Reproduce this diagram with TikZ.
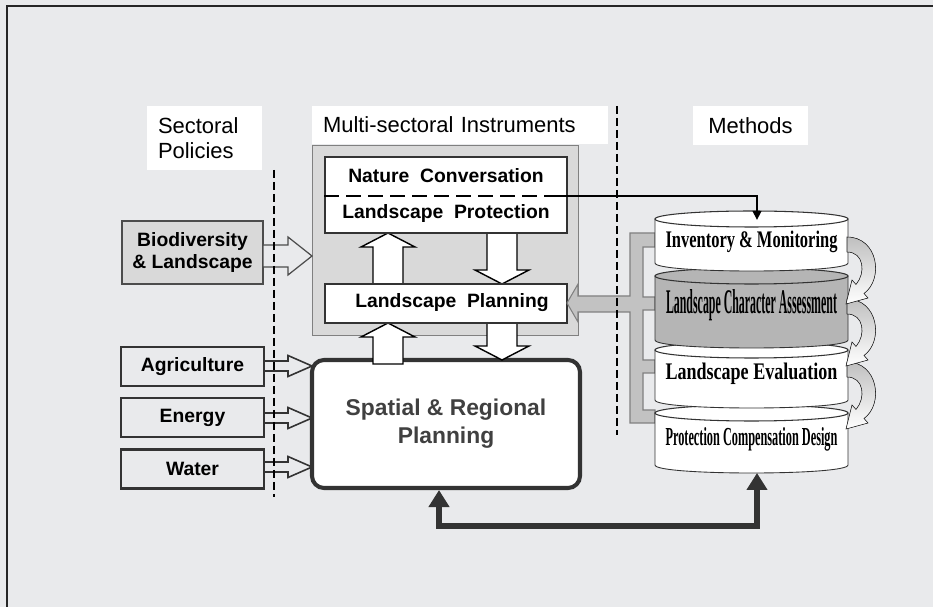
\documentclass[tikz,border=0pt]{standalone}
\usepackage{fontspec}
\setmainfont{Liberation Sans}
\newfontfamily\wordart{Liberation Serif}
\usetikzlibrary{arrows.meta,calc}

\definecolor{bg}{HTML}{E9EAEC}
\definecolor{panel}{HTML}{D9D9D9}
\definecolor{combgray}{HTML}{C2C2C2}
\definecolor{cylgray}{HTML}{B5B5B5}
\definecolor{dark}{HTML}{333333}

\newcommand{\pxu}{0.02cm}

% block arrow: style, x, y, angle, length, shaft half width, head half width, head length
\newcommand{\blockarr}[8]{%
  \draw[#1, shift={(#2,#3)}, rotate=#4] (0,-#6) -- ({#5-#8},-#6) -- ({#5-#8},-#7) -- (#5,0)
    -- ({#5-#8},#7) -- ({#5-#8},#6) -- (0,#6) -- cycle;}

% cylinder: top, bottom, fill
\newcommand{\cyl}[3]{%
  \filldraw[fill=#3, draw=black!80, line width=0.5pt] (655,#1) -- (655,#2)
    .. controls (655,#2+10.67) and (848,#2+10.67) .. (848,#2) -- (848,#1) -- cycle;
  \filldraw[fill=#3, draw=black!80, line width=0.6pt] (751.5,#1) ellipse [x radius=96.5, y radius=8];}

% curved block arrow on the right of the stack
\newcommand{\curvarr}[1]{%
  \filldraw[top color=black!25, bottom color=white, draw=black!90, line width=0.3pt]
    (847,#1) .. controls (878,#1) and (884,#1+42) .. (864,#1+56.5) -- (868,#1+61) -- (846,#1+67)
    -- (852,#1+43) -- (856,#1+47.5) .. controls (866,#1+36) and (864,#1+15) .. (847,#1+15) -- cycle;}

\tikzset{
  lbl/.style={fill=white, inner sep=0pt, font=\fontsize{12.5}{14.2}\selectfont},
  btxt/.style={font=\bfseries\fontsize{11}{13}\selectfont, inner sep=0pt},
  wbox/.style={draw=black!80, fill=white, line width=0.6pt, inner sep=0pt},
  secbox/.style={draw=dark, fill=bg, line width=1.2pt, inner sep=0pt, minimum width=143*\pxu,
    minimum height=39*\pxu, font=\bfseries\fontsize{11}{13}\selectfont},
  thinarr/.style={draw=dark, fill=bg, line width=0.9pt},
  openarr/.style={draw=black, fill=white, line width=0.8pt},
  divider/.style={line width=1.2pt, dash pattern=on 0.16cm off 0.08cm},
  cyltext/.style={anchor=base, inner sep=0pt},
}

\begin{document}
\begin{tikzpicture}[x=0.02cm, y=-0.02cm]
\fill[bg] (0,0) rectangle (933,607);
\useasboundingbox (0,0) rectangle (933,607);
\draw[line width=1pt, black!85] (7,6) rectangle (950,620);

% column headings
\node[lbl, minimum width=115*\pxu, minimum height=64*\pxu, text width=93*\pxu, align=left] (secpol) at (204.5,138) {Sectoral\\Policies};
\node[lbl, minimum width=296*\pxu, minimum height=38*\pxu, text width=274*\pxu, align=left] (multi) at (460,125) {Multi-sectoral Instruments};
\node[lbl, minimum width=115*\pxu, minimum height=39*\pxu] (methods) at (750.5,125.5) {Methods};

% multi-sectoral instruments
\node[draw=black!50, fill=panel, minimum width=266*\pxu, minimum height=190*\pxu, inner sep=0pt] (instr) at (445,240) {};
\blockarr{openarr}{388}{284}{90}{51}{15}{27}{14}
\blockarr{openarr}{502}{233}{-90}{51}{15}{27}{14}
\node[wbox, minimum width=242*\pxu, minimum height=76*\pxu] (prot) at (446,195) {};
\node[btxt] (nature) at (446,176) {Nature\ \ Conversation};
\node[btxt] (landprot) at (446,214) {Landscape\ \ Protection};
\coordinate (split) at (550,196);
\draw[line width=1.3pt, dash pattern=on 0.3cm off 0.14cm] (prot.west |- split) -- (split);

\node[secbox, draw=dark, line width=2.3pt, rounded corners=0.24cm, fill=white, minimum width=268*\pxu, minimum height=128*\pxu,
  align=center, font=\bfseries\fontsize{13}{16}\selectfont, text=black!75] (spatial) at (446,424) {Spatial \& Regional\\Planning};
\blockarr{openarr}{388}{364}{90}{41}{15}{27}{14}
\blockarr{openarr}{502}{323}{-90}{37}{15}{27}{14}
\node[wbox, minimum width=242*\pxu, minimum height=39*\pxu] (plan) at (446,303.5) {};
\node[btxt] (plantxt) at (452,303) {Landscape\ \ Planning};

% sectoral policies
\node[secbox, draw=black!70, line width=0.7pt, fill=panel, minimum width=141*\pxu, minimum height=63*\pxu, align=center] (bio) at (192.5,252.5) {Biodiversity\\\& Landscape};
\node[secbox] (agri) at (192.5,366.5) {Agriculture};
\node[secbox] (energy) at (192.5,417.5) {Energy};
\node[secbox] (water) at (192.5,469) {Water};
\blockarr{draw=black!70, fill=bg, line width=0.7pt}{263}{256}{0}{49}{11}{19}{24}
\blockarr{thinarr}{264}{366}{0}{48}{5}{10.5}{24}
\blockarr{thinarr}{264}{418}{0}{48}{5}{10.5}{24}
\blockarr{thinarr}{264}{467}{0}{48}{5}{10.5}{24}
\draw[divider] (274,170) -- (274,497);

% methods
\filldraw[fill=combgray, draw=black!50, line width=0.6pt] (655,233) -- (630,233) -- (630,296) -- (578,296) -- (578,284)
  -- (567,303) -- (578,322) -- (578,312) -- (630,312) -- (630,423) -- (655,423) -- (655,410) -- (643,410)
  -- (643,373) -- (655,373) -- (655,360) -- (643,360) -- (643,310) -- (655,310) -- (655,297) -- (643,297)
  -- (643,247) -- (655,247) -- cycle;
\draw[divider] (617,106) -- (617,435);
\cyl{413}{465}{white}
\cyl{350}{400}{white}
\cyl{276}{340}{cylgray}
\cyl{219}{263}{white}
\node[cyltext] (inv) at (751.5,248) {\resizebox{3.44cm}{0.33cm}{\wordart\bfseries Inventory \& Monitoring}};
\node[cyltext] (lca) at (751.5,314) {\resizebox{3.42cm}{0.48cm}{\wordart\bfseries Landscape Character Assessment}};
\node[cyltext] (leval) at (751.5,380) {\resizebox{3.44cm}{0.33cm}{\wordart\bfseries Landscape Evaluation}};
\node[cyltext] (pcd) at (751.5,446) {\resizebox{3.44cm}{0.36cm}{\wordart\bfseries Protection Compensation Design}};
\curvarr{362}
\curvarr{299}
\curvarr{237}

% links
\coordinate (cyltop) at (757,220);
\coordinate (cylbot) at (757,473);
\draw[line width=1.2pt, -{Triangle[length=0.18cm, width=0.17cm]}] (split) -- (split -| cyltop) -- (cyltop);
\coordinate (lb) at (439,526);
\coordinate (rb) at (757,526);
\draw[draw=dark, line width=0.12cm, {Triangle[length=0.34cm, width=0.4cm]}-{Triangle[length=0.34cm, width=0.4cm]}]
  (spatial.south -| lb) -- (lb) -- (rb) -- (cylbot);
\end{tikzpicture}
\end{document}
